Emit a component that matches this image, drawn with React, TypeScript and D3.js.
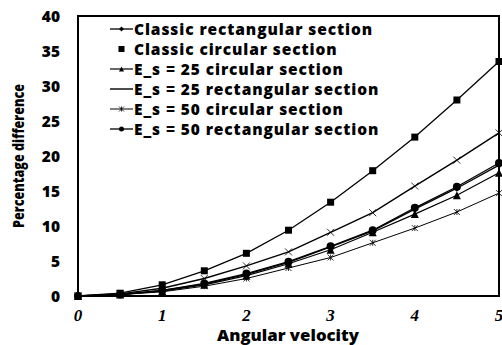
import * as d3 from "d3"

const xs = [0, 0.5, 1, 1.5, 2, 2.5, 3, 3.5, 4, 4.5, 5]
const classicRect = [0, 0.2, 0.8, 1.7, 3.1, 4.8, 7.0, 9.3, 12.4, 15.4, 18.7]
const classicCirc = [0, 0.4, 1.6, 3.6, 6.1, 9.4, 13.4, 17.9, 22.7, 28.0, 33.5]
const es25Circ = [0, 0.2, 0.7, 1.6, 2.9, 4.6, 6.6, 9.1, 11.7, 14.4, 17.6]
const es25Rect = [0, 0.3, 1.1, 2.5, 4.3, 6.3, 9.1, 11.9, 15.7, 19.4, 23.3]
const es50Circ = [0, 0.2, 0.6, 1.4, 2.5, 4.0, 5.5, 7.6, 9.7, 12.0, 14.7]
const es50Rect = [0, 0.2, 0.8, 1.8, 3.2, 4.9, 7.1, 9.4, 12.6, 15.6, 19.0]

const xTicks = [0, 1, 2, 3, 4, 5]
const yTicks = [0, 5, 10, 15, 20, 25, 30, 35, 40]

type Marker = "diamond" | "square" | "triangle" | "none" | "star" | "circle" | "cross"
const series: { name: string; values: number[]; marker: Marker; legendMarker: Marker; width: number }[] = [
  { name: "Classic rectangular section", values: classicRect, marker: "diamond", legendMarker: "diamond", width: 1.3 },
  { name: "Classic circular section", values: classicCirc, marker: "square", legendMarker: "square", width: 1.3 },
  { name: "E_s = 25 circular section", values: es25Circ, marker: "triangle", legendMarker: "triangle", width: 1.2 },
  { name: "E_s = 25 rectangular section", values: es25Rect, marker: "cross", legendMarker: "none", width: 1.4 },
  { name: "E_s = 50 circular section", values: es50Circ, marker: "star", legendMarker: "star", width: 1 },
  { name: "E_s = 50 rectangular section", values: es50Rect, marker: "circle", legendMarker: "circle", width: 1.3 },
]

function MarkerShape({ type, x, y, size }: { type: Marker; x: number; y: number; size: number }) {
  const s = size
  if (type === "square") return <rect x={x - s / 2} y={y - s / 2} width={s} height={s} fill="#000" />
  if (type === "circle") return <circle cx={x} cy={y} r={s / 2} fill="#000" />
  if (type === "diamond")
    return <path d={`M${x},${y - s / 2}L${x + s / 2},${y}L${x},${y + s / 2}L${x - s / 2},${y}Z`} fill="#000" />
  if (type === "triangle")
    return <path d={`M${x},${y - s / 2}L${x + s / 2},${y + s / 2}L${x - s / 2},${y + s / 2}Z`} fill="#000" />
  if (type === "cross")
    return (
      <path d={`M${x - s / 2},${y - s / 2}L${x + s / 2},${y + s / 2}M${x - s / 2},${y + s / 2}L${x + s / 2},${y - s / 2}`} stroke="#000" strokeWidth={0.8} />
    )
  if (type === "star")
    return (
      <path
        d={`M${x - s / 2},${y - s / 2}L${x + s / 2},${y + s / 2}M${x - s / 2},${y + s / 2}L${x + s / 2},${y - s / 2}M${x},${y - s / 2}L${x},${y + s / 2}`}
        stroke="#000"
        strokeWidth={0.8}
      />
    )
  return null
}

export default function App() {
  const width = 502
  const height = 345
  const M = { left: 78, top: 16, right: 3, bottom: 49 }
  const x = d3.scaleLinear().domain([0, 5]).range([M.left, width - M.right])
  const y = d3.scaleLinear().domain([0, 40]).range([height - M.bottom, M.top])
  const line = d3
    .line<number>()
    .x((_, i) => x(xs[i]))
    .y((d) => y(d))

  const markerSize: Record<Marker, number> = { square: 7, circle: 8, diamond: 7, triangle: 8, cross: 7, star: 6, none: 0 }

  return (
    <div style={{ position: "fixed", left: 0, top: 0 }}>
      <svg width={width} height={height} style={{ display: "block", background: "#fff" }}>
        {/* frame */}
        <rect x={x(0)} y={y(40)} width={x(5) - x(0)} height={y(0) - y(40)} fill="none" stroke="#000" strokeWidth={2} />

        {/* y ticks */}
        {yTicks.map((t) => (
          <text key={t} x={60} y={y(t) + 5.5} textAnchor="end" fontFamily="Open Sans" fontWeight={800} fontSize={15.5}>
            {t}
          </text>
        ))}
        {/* x ticks */}
        {xTicks.map((t) => (
          <text key={t} x={x(t)} y={y(0) + 25} textAnchor="middle" fontFamily="Liberation Serif" fontStyle="italic" fontWeight={700} fontSize={17}>
            {t}
          </text>
        ))}

        <text x={288} y={341} textAnchor="middle" fontFamily="Open Sans" fontWeight={800} fontSize={15.5} textLength={142} lengthAdjust="spacingAndGlyphs">
          Angular velocity
        </text>
        <text
          transform={`translate(24,${156}) rotate(-90)`}
          textAnchor="middle"
          fontFamily="Open Sans"
          fontWeight={800}
          fontSize={15}
          textLength={144}
          lengthAdjust="spacingAndGlyphs"
        >
          Percentage difference
        </text>

        {/* series */}
        {series.map((s) => (
          <g key={s.name}>
            <path d={line(s.values) ?? ""} fill="none" stroke="#000" strokeWidth={s.width} />
            {s.values.map((v, i) => (
              <MarkerShape key={i} type={s.marker} x={x(xs[i])} y={y(v)} size={markerSize[s.marker]} />
            ))}
          </g>
        ))}

        {/* legend */}
        {series.map((s, i) => {
          const ly = 29 + i * 20
          return (
            <g key={s.name}>
              {s.marker !== "square" && <line x1={110} x2={133} y1={ly} y2={ly} stroke="#000" strokeWidth={s.width} />}
              <MarkerShape type={s.legendMarker} x={121.5} y={ly} size={s.legendMarker === "square" ? 6 : 5} />
              <text x={134} y={ly + 5.5} fontFamily="Open Sans" fontWeight={800} fontSize={15.5} letterSpacing={0.9}>
                {s.name}
              </text>
            </g>
          )
        })}
      </svg>
    </div>
  )
}
